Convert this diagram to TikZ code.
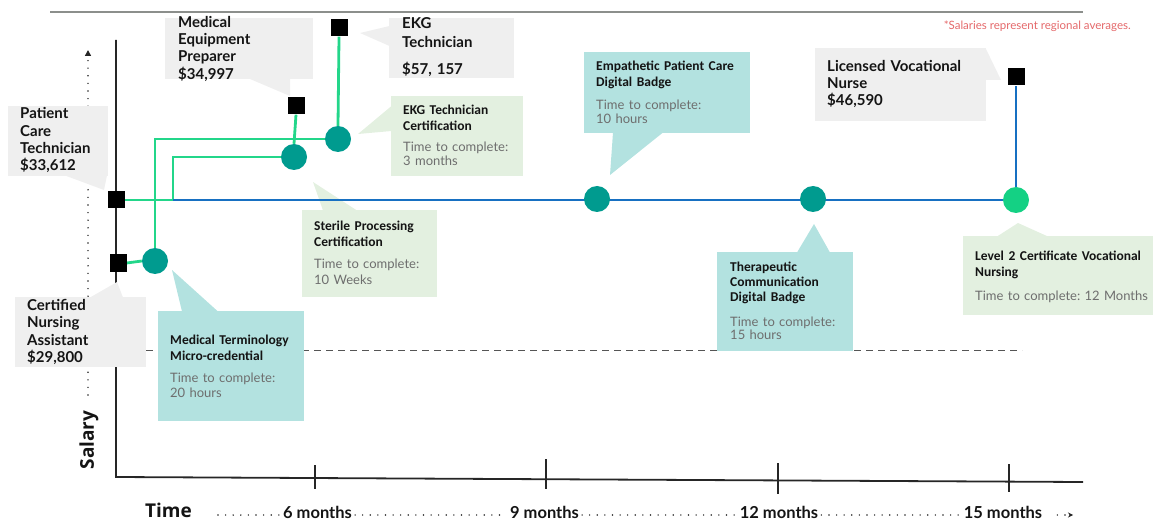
\documentclass[tikz,border=0pt]{standalone}
\usepackage{fontspec}
\setmainfont{Lato}
\newfontfamily\titlefont{Carlito}
\newfontfamily\axisfont{Open Sans}
\usetikzlibrary{arrows.meta}
\frenchspacing

\definecolor{calloutgray}{HTML}{EFEFEF}
\definecolor{tealbox}{HTML}{B3E2E0}
\definecolor{greenbox}{HTML}{E3F0E0}
\definecolor{tealdot}{HTML}{009B8F}
\definecolor{greendot}{HTML}{14D184}
\definecolor{greenline}{HTML}{23D68A}
\definecolor{blueline}{HTML}{1770C2}
\definecolor{axisink}{HTML}{262626}
\definecolor{ruleink}{HTML}{8C8F8C}
\definecolor{notered}{HTML}{E4686A}
\definecolor{bodygray}{HTML}{6E6E6E}
\definecolor{inkblack}{HTML}{141414}
\definecolor{dashgray}{HTML}{555555}

\pgfdeclarelayer{boxes}
\pgfdeclarelayer{paths}
\pgfsetlayers{boxes,paths,main}

\tikzset{
  box/.style={inner sep=0pt, anchor=north west, draw=none},
  graycall/.style={box, fill=calloutgray},
  tealcall/.style={box, fill=tealbox},
  greencall/.style={box, fill=greenbox},
  calltxt/.style={font=\fontsize{15}{17.3}\selectfont\bfseries, text=inkblack,
    align=left, text width=190pt, inner sep=0pt, anchor=base west},
  ttl/.style={font=\titlefont\bfseries\fontsize{13.5}{15.8}\selectfont, text=inkblack,
    align=left, text width=200pt, inner sep=0pt, anchor=base west},
  body/.style={font=\fontsize{13}{15.5}\selectfont, text=bodygray,
    align=left, text width=220pt, inner sep=0pt, anchor=base west},
  job/.style={rectangle, fill=black, minimum size=17pt, inner sep=0pt},
  course/.style={circle, fill=tealdot, minimum size=26pt, inner sep=0pt},
  gline/.style={draw=greenline, line width=2.8pt},
  bline/.style={draw=blueline, line width=2.8pt},
  axisline/.style={draw=axisink, line width=1.8pt},
  tickline/.style={draw=axisink, line width=1.4pt},
  dotline/.style={draw=axisink, line width=1.6pt, line cap=round, dash pattern=on 0pt off 7.6pt},
  monthlbl/.style={font=\fontsize{16.5}{19}\selectfont\bfseries, text=inkblack, inner xsep=3pt, inner ysep=0pt, anchor=base},
  axislbl/.style={font=\axisfont\bfseries\fontsize{19}{22}\selectfont, text=inkblack, inner sep=0pt},
}

\begin{document}
\begin{tikzpicture}[x=1pt, y=-1pt]
\useasboundingbox (0,0) rectangle (1153,521);

% header rule and footnote
\coordinate (ruleL) at (50,12);
\coordinate (ruleR) at (1083,12);
\draw[draw=ruleink, line width=2pt] (ruleL) -- (ruleR);
\node[font=\fontsize{11.5}{13}\selectfont, text=notered, inner sep=0pt, anchor=base east] (note) at (1131,30) {*Salaries represent regional averages.};

\begin{pgfonlayer}{boxes}
% axes
\coordinate (ytop) at (116,40);
\coordinate (origin) at (116,477);
\coordinate (xend) at (1083,482);
\draw[axisline] (ytop) -- (origin) -- (xend);
\coordinate (t6a) at (315,465);  \coordinate (t6b) at (315,489);
\coordinate (t9a) at (546,459);  \coordinate (t9b) at (546,489);
\coordinate (t12a) at (778,463); \coordinate (t12b) at (778,494);
\coordinate (t15a) at (1009,464);\coordinate (t15b) at (1009,492);
\draw[tickline] (t6a) -- (t6b);
\draw[tickline] (t9a) -- (t9b);
\draw[tickline] (t12a) -- (t12b);
\draw[tickline] (t15a) -- (t15b);

% salary direction arrow
\coordinate (sbase) at (88,395);
\coordinate (stop) at (88,50);
\draw[dotline, -{Triangle[length=6pt, width=6pt]}] (sbase) -- (stop);

% reference dashed line
\coordinate (dashL) at (146,350);
\coordinate (dashR) at (1022,350);
\draw[draw=dashgray, line width=1pt, dash pattern=on 7pt off 5pt] (dashL) -- (dashR);

% callout boxes and their pointers
\node[graycall, minimum width=148pt, minimum height=61pt] (mepbox) at (165,18) {};
\fill[calloutgray] (250,79) -- (290,79) -- (290,96) -- cycle;

\node[graycall, minimum width=125pt, minimum height=60pt] (ekgbox) at (389,18) {};
\fill[calloutgray] (389.5,26) -- (360,33) -- (389.5,46) -- cycle;

\node[graycall, minimum width=100pt, minimum height=70pt] (pctbox) at (8,106) {};
\fill[calloutgray] (65,175.5) -- (104,190) -- (107,175.5) -- cycle;

\node[graycall, minimum width=131pt, minimum height=70pt] (cnabox) at (15,297) {};
\fill[calloutgray] (90,297.5) -- (117,282) -- (123,297.5) -- cycle;

\node[graycall, minimum width=171pt, minimum height=73pt] (lvnbox) at (815,48) {};
\fill[calloutgray] (985.5,48) -- (1001,80) -- (985.5,80) -- cycle;

\node[tealcall, minimum width=146pt, minimum height=110pt] (mtbox) at (158,311) {};
\fill[tealbox] (182,311.5) -- (172,270) -- (218,311.5) -- cycle;

\node[greencall, minimum width=135pt, minimum height=87pt] (spbox) at (302,210) {};
\fill[greenbox] (313,182) -- (323,210.5) -- (357,210.5) -- cycle;

\node[greencall, minimum width=132pt, minimum height=80pt] (ekgcbox) at (391,96) {};
\fill[greenbox] (391.5,106) -- (358,134) -- (391.5,131) -- cycle;

\node[tealcall, minimum width=166pt, minimum height=81pt] (epcbox) at (584,52) {};
\fill[tealbox] (613,132.5) -- (610,175) -- (663,132.5) -- cycle;

\node[tealcall, minimum width=136pt, minimum height=99pt] (tcbox) at (717,252) {};
\fill[tealbox] (797,252.5) -- (814,224) -- (830,252.5) -- cycle;

\node[greencall, minimum width=190pt, minimum height=79pt] (l2box) at (963,236) {};
\fill[greenbox] (997,236.5) -- (1018,223) -- (1048,236.5) -- cycle;
\end{pgfonlayer}

% axis labels
\node[axislbl, rotate=90] (salary) at (89,440) {Salary};
\node[axislbl, anchor=base west] (time) at (145,517) {Time};
\node[monthlbl] (m6) at (317.5,518) {6 months};
\node[monthlbl] (m9) at (544.5,518) {9 months};
\node[monthlbl] (m12) at (779,518) {12 months};
\node[monthlbl] (m15) at (1003,518) {15 months};
\coordinate (tstart) at (218,515);
\coordinate (tend) at (1073,515);
\draw[dotline] (tstart) -- (m6.west |- tstart);
\draw[dotline] (m6.east |- tstart) -- (m9.west |- tstart);
\draw[dotline] (m9.east |- tstart) -- (m12.west |- tstart);
\draw[dotline] (m12.east |- tstart) -- (m15.west |- tstart);
\draw[dotline, -{Stealth[length=5pt, width=5pt]}] ([xshift=12pt]m15.east |- tstart) -- (tend);

% jobs (squares) and credentials (circles)
\node[job] (pct) at (116,200) {};
\node[job] (cna) at (118,263) {};
\node[job] (mep) at (296,106) {};
\node[job] (ekg) at (339,28) {};
\node[job] (lvn) at (1016,77) {};
\node[course] (mt) at (155,261) {};
\node[course] (sp) at (294,157) {};
\node[course] (ekgc) at (338,139) {};
\node[course] (epc) at (597,199) {};
\node[course] (tc) at (813,199) {};
\node[course, fill=greendot] (l2) at (1016,200) {};

% pathways, kept beneath the markers
\begin{pgfonlayer}{paths}
\coordinate (split) at (173,200);
\draw[gline] (pct.east) -- (split) |- (sp.west);
\draw[gline] (mt.north) |- (ekgc.west);
\draw[gline] (cna.east) -- (mt.west);
\draw[gline] (sp.north) -- (mep.south);
\draw[gline] (ekgc.north) -- (ekg.south);
\draw[bline] (split) -- (l2.west);
\draw[bline] (l2.north) -- (lvn.south);
\end{pgfonlayer}

% callout texts
\node[calltxt] (meptxt) at (178,27.3) {Medical\\Equipment\\Preparer\\\$34,997};
\node[calltxt, font=\fontsize{15}{19}\selectfont\bfseries] (ekgtxt) at (402,29) {EKG\\Technician\\[8pt]\$57, 157};
\node[calltxt] (pcttxt) at (20,119) {Patient\\Care\\Technician\\\$33,612};
\node[calltxt, font=\fontsize{15}{17.6}\selectfont\bfseries] (cnatxt) at (27,310) {Certified\\Nursing\\Assistant\\\$29,800};
\node[calltxt, font=\fontsize{15}{17}\selectfont\bfseries] (lvntxt) at (827,72) {Licensed Vocational\\Nurse\\\$46,590};

\node[ttl] (mtttl) at (170,344.3) {Medical Terminology\\Micro-credential};
\node[body] (mtbody) at (170,382.3) {Time to complete:\\20 hours};

\node[ttl] (spttl) at (314,230.7) {Sterile Processing\\Certification};
\node[body] (spbody) at (314,269) {Time to complete:\\10 Weeks};

\node[ttl] (ekgcttl) at (403,115) {EKG Technician\\Certification};
\node[body, font=\fontsize{13}{13.5}\selectfont] (ekgcbody) at (403,151.7) {Time to complete:\\3 months};

\node[ttl] (epcttl) at (596,71) {Empathetic Patient Care\\Digital Badge};
\node[body, font=\fontsize{13}{14}\selectfont] (epcbody) at (596,110) {Time to complete:\\10 hours};

\node[ttl, font=\titlefont\bfseries\fontsize{13.5}{15}\selectfont] (tcttl) at (730,271.7) {Therapeutic\\Communication\\Digital Badge};
\node[body, font=\fontsize{13}{12.8}\selectfont] (tcbody) at (730,326.7) {Time to complete:\\15 hours};

\node[ttl] (l2ttl) at (975,261) {Level 2 Certificate Vocational\\Nursing};
\node[body] (l2body) at (975,300) {Time to complete: 12 Months};

\end{tikzpicture}
\end{document}
